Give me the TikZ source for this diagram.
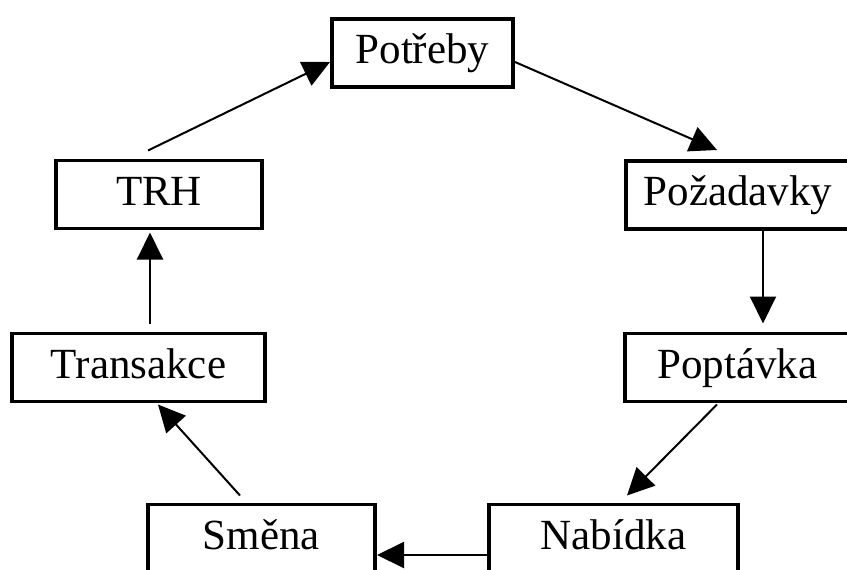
\documentclass[tikz,border=0pt]{standalone}
\usepackage{fontspec}
\setmainfont{Liberation Serif}
\usetikzlibrary{arrows.meta}
\tikzset{
  box/.style={draw=black, line width=3.5pt, rectangle, inner sep=0pt, outer sep=0pt,
    minimum height=68pt, text height=30pt, text depth=9pt,
    font=\fontsize{43}{50}\selectfont},
  arr/.style={line width=2pt, -{Triangle[length=27pt,width=26pt]}}
}
\begin{document}
\begin{tikzpicture}[x=1pt,y=-1pt]
\fill[white] (0,0) rectangle (847,570);
\useasboundingbox (0,0) rectangle (847,570);
\clip (0,0) rectangle (847,570);
\node[box, minimum width=181pt] (pot) at (422.5,53) {Potřeby};
\node[box, minimum width=224pt] (poz) at (738,195) {Požadavky};
\node[box, minimum width=225pt] (pop) at (737.5,367.5) {Poptávka};
\node[box, minimum width=249pt] (nab) at (613.5,538.5) {Nabídka};
\node[box, minimum width=227pt] (sme) at (261.5,538.5) {Směna};
\node[box, minimum width=253pt] (tra) at (138.5,367.5) {Transakce};
\node[box, minimum width=206pt] (trh) at (159,194.5) {TRH};
\draw[arr] ([xshift=-11pt,yshift=10pt]trh.north) -- ([xshift=-2pt,yshift=-9pt]pot.west);
\draw[arr] ([xshift=2pt,yshift=-9pt]pot.east) -- ([xshift=-21pt,yshift=11pt]poz.north);
\draw[arr] ([xshift=25pt]poz.south) -- ([xshift=25.5pt,yshift=10pt]pop.north);
\draw[arr] ([xshift=-20.5pt,yshift=-3pt]pop.south) -- ([xshift=13.5pt,yshift=9pt]nab.north);
\draw[arr] ([yshift=-16.5pt]nab.west) -- ([xshift=2pt,yshift=-16.5pt]sme.east);
\draw[arr] ([xshift=-21.5pt,yshift=9pt]sme.north) -- ([xshift=19.5pt,yshift=-3pt]tra.south);
\draw[arr] ([xshift=11.5pt,yshift=10pt]tra.north) -- ([xshift=-9pt,yshift=-4pt]trh.south);
\end{tikzpicture}
\end{document}
